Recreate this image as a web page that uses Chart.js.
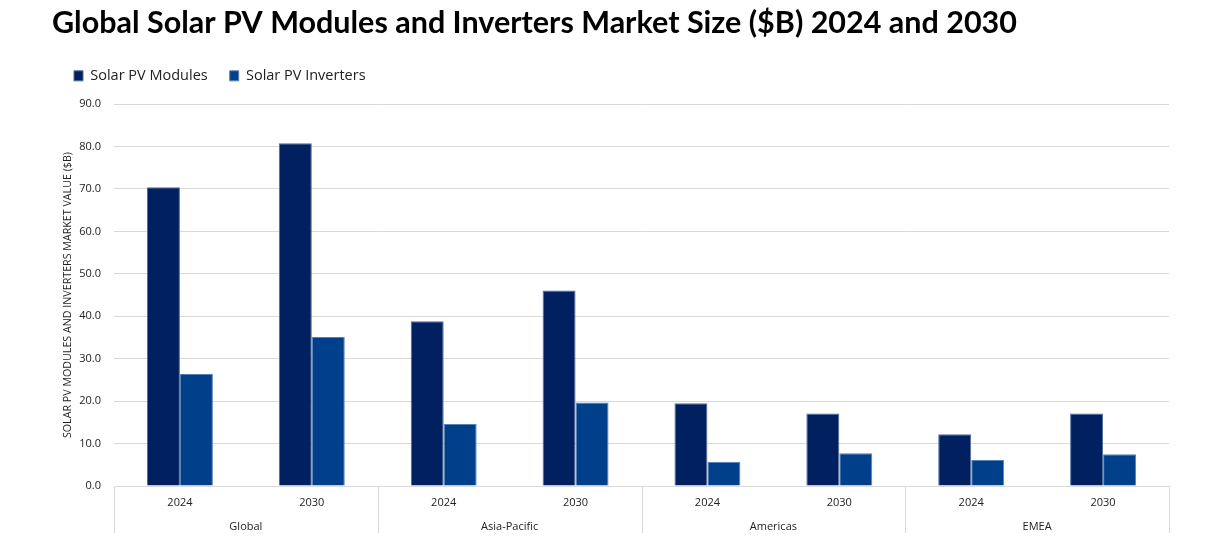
<!DOCTYPE html>
<html>
<head>
<meta charset="utf-8">
<script src="https://cdn.jsdelivr.net/npm/chart.js@4"></script>
<style>
  html, body { margin: 0; padding: 0; background: #fff; }
  #wrap { width: 1224px; height: 550px; }
</style>
</head>
<body>
<div id="wrap"><canvas id="c"></canvas></div>
<script>
const years = ['2024', '2030', '2024', '2030', '2024', '2030', '2024', '2030'];
const regions = ['Global', 'Asia-Pacific', 'Americas', 'EMEA'];
const modules = [70.4, 80.8, 38.8, 46.1, 19.5, 17.1, 12.2, 17.1];
const inverters = [26.4, 35.1, 14.6, 19.7, 5.7, 7.7, 6.1, 7.5];
const yTicks = [0, 10, 20, 30, 40, 50, 60, 70, 80, 90];

const gridColor = '#d9d9d9';
const fontFam = "'Open Sans', 'Noto Sans', sans-serif";

// Extra space below the legend
const legendSpacer = {
  id: 'legendSpacer',
  beforeInit(chart) {
    const origFit = chart.legend.fit;
    chart.legend.fit = function () {
      origFit.bind(chart.legend)();
      this.height += 11;
    };
  }
};

// Vertical separators between region groups, taken from the region scale
const groupSeparators = {
  id: 'groupSeparators',
  afterDraw(chart) {
    const xs = chart.scales.x, x2 = chart.scales.x2;
    const ctx = chart.ctx;
    ctx.save();
    ctx.strokeStyle = gridColor;
    ctx.lineWidth = 1;
    for (let k = 0; k <= regions.length; k++) {
      const px = Math.round(x2.getPixelForValue(k - 0.5)) + 0.5;
      ctx.beginPath();
      ctx.moveTo(px, xs.top);
      ctx.lineTo(px, x2.bottom);
      ctx.stroke();
    }
    ctx.restore();
  }
};

new Chart(document.getElementById('c'), {
  type: 'bar',
  data: {
    labels: years,
    datasets: [
      { label: 'Solar PV Modules', data: modules, backgroundColor: '#002060', borderColor: '#4f6d9e', borderWidth: 1, categoryPercentage: 0.5, barPercentage: 1.0 },
      { label: 'Solar PV Inverters', data: inverters, backgroundColor: '#003f8a', borderColor: '#5a80b8', borderWidth: 1, categoryPercentage: 0.5, barPercentage: 1.0 }
    ]
  },
  plugins: [legendSpacer, groupSeparators],
  options: {
    responsive: true,
    maintainAspectRatio: false,
    animation: false,
    layout: { padding: { left: 52, right: 55, top: 0, bottom: 17 } },
    plugins: {
      title: {
        display: true,
        text: 'Global Solar PV Modules and Inverters Market Size ($B) 2024 and 2030',
        align: 'start',
        color: '#000',
        font: { family: "Lato, 'Open Sans', sans-serif", size: 30.5, weight: 'bold' },
        padding: { top: 5, bottom: 5 }
      },
      legend: {
        display: true,
        align: 'start',
        labels: {
          boxWidth: 9,
          boxHeight: 10,
          padding: 22,
          color: '#222',
          font: { family: fontFam, size: 14.5 }
        }
      },
      tooltip: { enabled: false }
    },
    scales: {
      x: {
        type: 'category',
        position: 'bottom',
        offset: true,
        afterFit: (axis) => { axis.height = 22; },
        grid: { display: false, drawTicks: false },
        border: { display: true, color: gridColor },
        ticks: { color: '#222', font: { family: fontFam, size: 11 }, padding: 10, maxRotation: 0, autoSkip: false }
      },
      x2: {
        type: 'category',
        position: 'bottom',
        labels: regions,
        offset: true,
        afterFit: (axis) => { axis.height = 25; },
        grid: { display: false, drawTicks: false },
        border: { display: false },
        ticks: { color: '#222', font: { family: fontFam, size: 11 }, padding: 12, maxRotation: 0, autoSkip: false }
      },
      y: {
        min: 0,
        max: 90,
        afterBuildTicks: (axis) => { axis.ticks = yTicks.map(v => ({ value: v })); },
        afterFit: (axis) => { axis.width = 62; },
        grid: { color: gridColor, drawTicks: false },
        border: { display: false },
        ticks: {
          color: '#222',
          padding: 13,
          font: { family: fontFam, size: 11 },
          callback: (v) => Number(v).toFixed(1)
        },
        title: {
          display: true,
          text: 'SOLAR PV MODULES AND INVERTERS MARKET VALUE ($B)',
          color: '#222',
          font: { family: fontFam, size: 10.7 },
          padding: { top: 10, bottom: 4 }
        }
      }
    }
  }
});
</script>
</body>
</html>
